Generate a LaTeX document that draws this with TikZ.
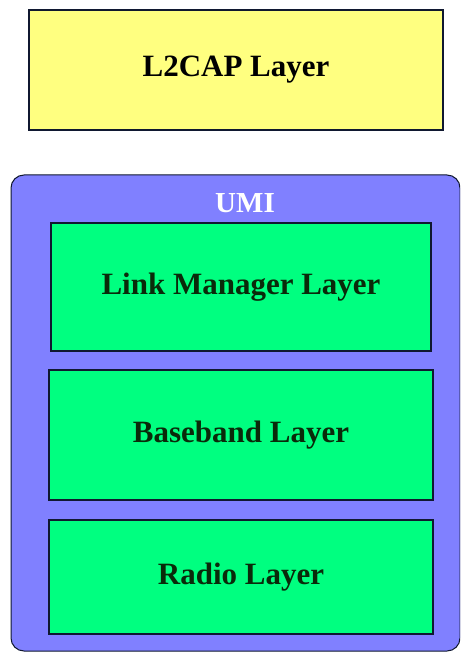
\documentclass[tikz,border=0pt]{standalone}
\usepackage{fontspec}
\setmainfont{Liberation Serif}
\definecolor{l2yellow}{HTML}{FFFF80}
\definecolor{umiblue}{HTML}{8080FF}
\definecolor{layergreen}{HTML}{00FF80}
\definecolor{darktext}{HTML}{0A2A0A}
\definecolor{edgecol}{HTML}{101830}
\tikzset{
  layerbox/.style={draw=edgecol, line width=1.3pt, fill=layergreen, inner sep=0pt,
    font=\bfseries\fontsize{31}{34}\selectfont, text=darktext},
  topbox/.style={draw=edgecol, line width=1.3pt, fill=l2yellow, inner sep=0pt,
    font=\bfseries\fontsize{31}{34}\selectfont, text=black},
  umibox/.style={draw=edgecol, line width=1pt, fill=umiblue, rounded corners=13pt}
}
\begin{document}
\begin{tikzpicture}[x=1pt,y=-1pt]
\useasboundingbox (0,0) rectangle (460,652);
\clip (0,0) rectangle (460,652);
\fill[white] (0,0) rectangle (460,652);
\node[topbox, minimum width=414pt, minimum height=120pt] (l2cap) at (236,70) {L2CAP Layer};
\draw[umibox] (11,175) rectangle (460,651);
\node[text=white, font=\bfseries\fontsize{29}{32}\selectfont, inner sep=0pt] (umi) at (245,203) {UMI};
\node[layerbox, minimum width=380pt, minimum height=128pt] (lm) at (241,287) {Link Manager Layer};
\node[layerbox, minimum width=384pt, minimum height=130pt] (bb) at (241,435) {Baseband Layer};
\node[layerbox, minimum width=384pt, minimum height=114pt] (radio) at (241,577) {Radio Layer};
\end{tikzpicture}
\end{document}
